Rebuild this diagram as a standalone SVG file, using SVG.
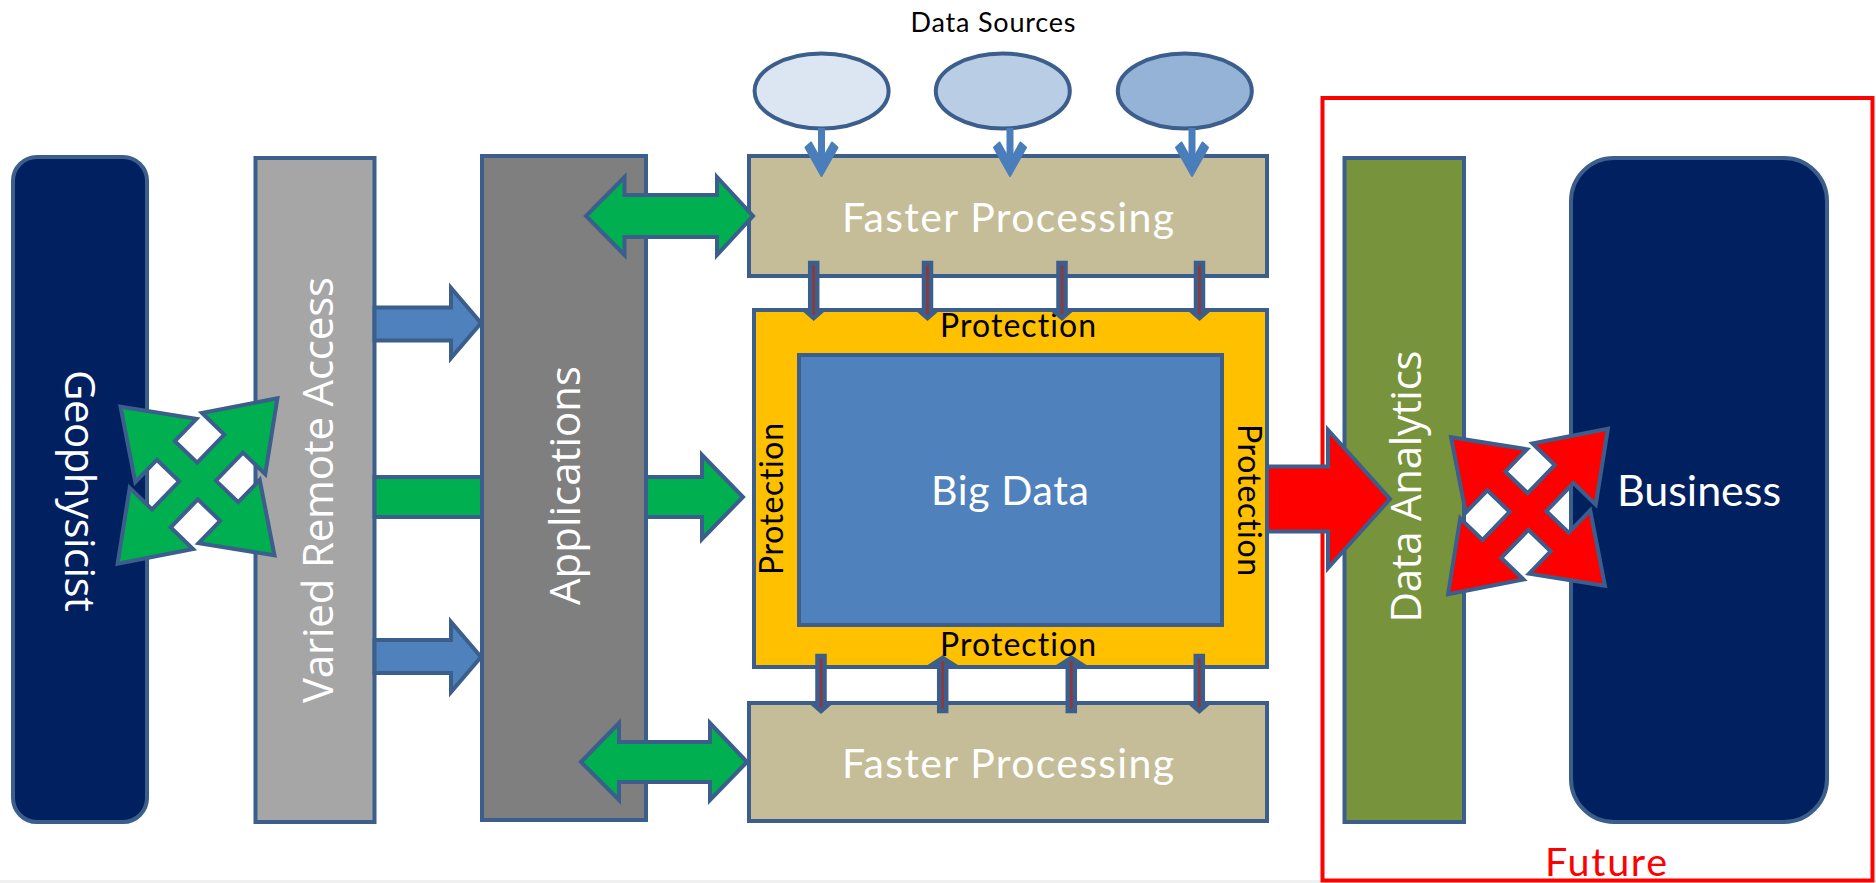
<svg xmlns="http://www.w3.org/2000/svg" width="1876" height="883" viewBox="0 0 1876 883">
<style>
.box{stroke:#3B5E8C;stroke-width:4;stroke-linejoin:miter}
.vt{font-family:'Open Sans','DejaVu Sans',sans-serif;font-size:42px;fill:#FFFFFF;text-anchor:middle}
.ct{font-family:Lato,'Open Sans',sans-serif;text-anchor:middle;font-variant-ligatures:none}
.blk{fill:#000000}
.wht{fill:#FFFFFF}
.ga{fill:#00B050;stroke:#3B5E8C;stroke-width:4;stroke-linejoin:miter}
.ba{fill:#4F81BD;stroke:#3B5E8C;stroke-width:4;stroke-linejoin:miter}
.ra{fill:#FF0000;stroke:#3B5E8C;stroke-width:4;stroke-linejoin:miter}
.sc{fill:#943634;stroke:#3B5E8C;stroke-width:4.5;stroke-linejoin:miter}
.ea{fill:#4A7EBB;stroke:#4A7EBB;stroke-width:2;stroke-linejoin:round}
</style>
<defs>
<polygon id="cross" points="107,0 44,44 44,13 13,13 13,52 44,52 0,115 -44,52 -13,52 -13,13 -44,13 -44,44 -107,0 -44,-44 -44,-13 -13,-13 -13,-52 -44,-52 0,-115 44,-52 13,-52 13,-13 44,-13 44,-44"/>
<g id="srcArrow">
<rect x="-3.5" y="128" width="7" height="34" fill="#4A7EBB"/>
<polygon class="ea" points="-16,147.5 -10.5,142.5 0,161 10.5,142.5 16,147.5 0,176"/>
</g>
</defs>
<rect x="0" y="880" width="1876" height="3" fill="#F0F0F0"/>
<g id="future">
<rect x="1322.5" y="98" width="550" height="782.5" fill="none" stroke="#FF0000" stroke-width="4"/>
<text class="ct" x="1606" y="876" font-size="39.5" fill="#FF0000" textLength="122">Future</text>
</g>
<g id="geophysicist">
<rect class="box" x="13" y="157" width="134" height="665" rx="24" fill="#002060"/>
<text class="vt" transform="translate(65,491) rotate(90)" textLength="242">Geophysicist</text>
</g>
<g id="varied-remote-access">
<rect class="box" x="255.5" y="158" width="119" height="664" fill="#A6A6A6"/>
<text class="vt" transform="translate(333,490) rotate(-90)" textLength="426">Varied Remote Access</text>
</g>
<g id="applications">
<rect class="box" x="482" y="156" width="164" height="664" fill="#7F7F7F"/>
<text class="vt" transform="translate(580,485.5) rotate(-90)" textLength="239">Applications</text>
</g>
<g id="data-sources">
<text class="ct blk" x="993" y="31.5" font-size="27" textLength="165">Data Sources</text>
<ellipse class="box" cx="821.6" cy="91" rx="67" ry="37.5" fill="#DCE6F2"/>
<ellipse class="box" cx="1002.8" cy="91" rx="67" ry="37.5" fill="#B9CDE5"/>
<ellipse class="box" cx="1184.8" cy="91" rx="67" ry="37.5" fill="#95B3D7"/>
</g>
<g id="faster-processing-top">
<rect class="box" x="749" y="156" width="518" height="120" fill="#C4BD97"/>
<text class="ct wht" x="1008" y="232" font-size="41" textLength="332">Faster Processing</text>
</g>
<g id="protection">
<rect class="box" x="754" y="310" width="513" height="357" fill="#FFC000"/>
<text class="ct blk" x="1018" y="337" font-size="32" textLength="156">Protection</text>
<text class="ct blk" x="1018" y="656" font-size="32" textLength="156">Protection</text>
<text class="ct blk" transform="translate(783,499) rotate(-90)" font-size="32" textLength="152">Protection</text>
<text class="ct blk" transform="translate(1238,500) rotate(90)" font-size="32" textLength="152">Protection</text>
</g>
<g id="big-data">
<rect class="box" x="799" y="355" width="423" height="270" fill="#4F81BD"/>
<text class="ct wht" x="1010" y="504.5" font-size="41" textLength="158">Big Data</text>
</g>
<g id="faster-processing-bottom">
<rect class="box" x="749" y="703" width="518" height="118" fill="#C4BD97"/>
<text class="ct wht" x="1008" y="778" font-size="41" textLength="332">Faster Processing</text>
</g>
<g id="data-analytics">
<rect class="box" x="1344.5" y="158" width="119.5" height="664" fill="#77933C"/>
<text class="vt" transform="translate(1421,486.5) rotate(-90)" textLength="272">Data Analytics</text>
</g>
<g id="business">
<rect class="box" x="1571" y="158" width="256" height="664" rx="43" fill="#002060"/>
<text class="ct wht" x="1699" y="506" font-size="43" textLength="164">Business</text>
</g>
<g id="connectors">
<use href="#srcArrow" x="821.5" y="0"/>
<use href="#srcArrow" x="1010" y="0"/>
<use href="#srcArrow" x="1192" y="0"/>
<polygon class="ba" points="374.5,307.5 451,307.5 451,288 481,323 451,358 451,340.5 374.5,340.5"/>
<polygon class="ba" points="374.5,640 451,640 451,622 481,657 451,692 451,673 374.5,673"/>
<polygon class="ga" points="374.5,477 482,477 482,517 374.5,517"/>
<polygon class="ga" points="646,477 702,477 702,455 743,497 702,539 702,517 646,517"/>
<polygon class="ga" points="586,216 624.5,177 624.5,195 717,195 717,177 753,216 717,255 717,237 624.5,237 624.5,255"/>
<polygon class="ga" points="581,762 619,723 619,742 710,742 710,723 747,762 710,800 710,782 619,782 619,800"/>
<polygon class="sc" points="810.2,263 817.2,263 817.2,311 821.7,311 813.7,318 805.7,311 810.2,311"/>
<polygon class="sc" points="924,263 931,263 931,311 935.5,311 927.5,318 919.5,311 924,311"/>
<polygon class="sc" points="1058.5,263 1065.5,263 1065.5,311 1070,311 1062,318 1054,311 1058.5,311"/>
<polygon class="sc" points="1196,263 1203,263 1203,311 1207.5,311 1199.5,318 1191.5,311 1196,311"/>
<polygon class="sc" points="817.5,656 824.5,656 824.5,704 829,704 821,711 813,704 817.5,704"/>
<polygon class="sc" points="1195.8,656 1202.8,656 1202.8,704 1207.3,704 1199.3,711 1191.3,704 1195.8,704"/>
<polygon class="sc" points="939.2,711 946.2,711 946.2,665 953.7,665 942.7,658 931.7,665 939.2,665"/>
<polygon class="sc" points="1067.8,711 1074.8,711 1074.8,665 1082.3,665 1071.3,658 1060.3,665 1067.8,665"/>
<polygon class="ra" points="1267,466.5 1328,466.5 1328,430 1390,499 1328,568 1328,531.5 1267,531.5"/>
<use href="#cross" class="ga" transform="translate(197.5,481) rotate(44)"/>
<use href="#cross" class="ra" transform="translate(1528,511.5) rotate(44)"/>
</g>
</svg>
